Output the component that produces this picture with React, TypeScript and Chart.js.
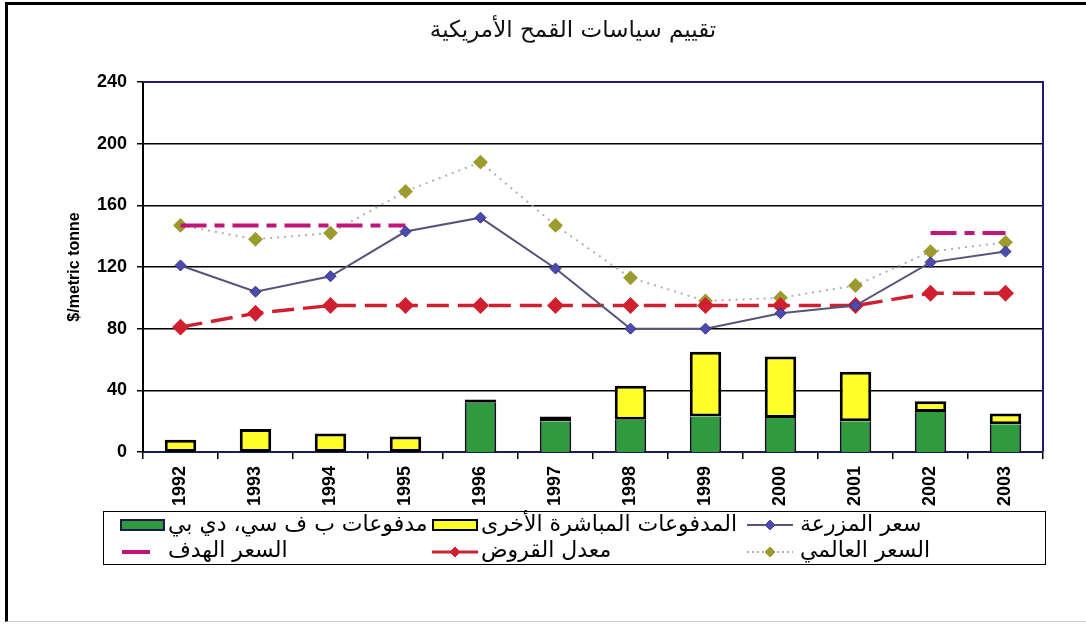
import React, { useEffect, useRef } from "react";
import { Chart, registerables } from "chart.js";

Chart.register(...registerables);

const chartTitle = "تقييم سياسات القمح الأمريكية";
const yAxisTitle = "$/metric tonne";
const years = ["1992", "1993", "1994", "1995", "1996", "1997", "1998", "1999", "2000", "2001", "2002", "2003"];
const pfcPayments = [0, 0, 0, 0, 32, 20, 21, 23, 22, 20, 26, 18];
const otherDirectPayments = [8, 15, 12, 10, 2, 3, 22, 42, 40, 32, 7, 7];
const farmPrice = [121, 104, 114, 143, 152, 119, 80, 80, 90, 95, 123, 130];
const targetPrice = [147, 147, 147, 147, null, null, null, null, null, null, 142, 142];
const loanRate = [81, 90, 95, 95, 95, 95, 95, 95, 95, 95, 103, 103];
const worldPrice = [147, 138, 142, 169, 188, 147, 113, 98, 100, 108, 130, 136];
const yMin = 0;
const yMax = 240;
const yStep = 40;

const labelPfc = "مدفوعات ب ف سي، دي بي";
const labelOther = "المدفوعات المباشرة الأخرى";
const labelFarm = "سعر المزرعة";
const labelTarget = "السعر الهدف";
const labelLoan = "معدل القروض";
const labelWorld = "السعر العالمي";

const GREEN = "#2f9a3e";
const YELLOW = "#ffff2a";
const FARM_LINE = "#55557a";
const FARM_MARK = "#4c4cb0";
const TARGET = "#c2157a";
const LOAN = "#d02030";
const WORLD_LINE = "#b0b0b0";
const WORLD_MARK = "#9c9c2e";
const NAVY = "#2a1a6e";

const frameBorder = {
  id: "frameBorder",
  beforeDatasetsDraw(chart: any) {
    const { ctx, chartArea } = chart;
    const { left, top, right, bottom } = chartArea;
    ctx.save();
    ctx.strokeStyle = NAVY;
    ctx.lineWidth = 2;
    ctx.beginPath();
    ctx.moveTo(left, top);
    ctx.lineTo(right, top);
    ctx.lineTo(right, bottom);
    ctx.stroke();
    ctx.restore();
  },
};

function LineSymbol(props: { color: string; width: number; dash?: string; mark?: string; x1?: number; x2?: number; markColor?: string }) {
  const { color, width, dash, mark, x1 = 0, x2 = 46, markColor } = props;
  return (
    <svg width={46} height={14} style={{ position: "absolute", left: 0, top: 0 }}>
      <line x1={x1} y1={7} x2={x2} y2={7} stroke={color} strokeWidth={width} strokeDasharray={dash} />
      {mark ? <polygon points="23,2 28,7 23,12 18,7" fill={markColor} stroke={markColor} /> : null}
    </svg>
  );
}

export default function App() {
  const canvasRef = useRef<HTMLCanvasElement | null>(null);

  useEffect(() => {
    const canvas = canvasRef.current;
    if (!canvas) return;
    const chart = new Chart(canvas, {
      type: "bar",
      data: {
        labels: years,
        datasets: [
          {
            type: "bar",
            label: labelPfc,
            data: pfcPayments,
            backgroundColor: GREEN,
            borderColor: "#111122",
            borderWidth: { top: 0, left: 2, right: 2, bottom: 0 } as any,
            borderSkipped: false,
            yAxisID: "y2",
            stack: "pay",
            order: 9,
            barPercentage: 0.42,
            categoryPercentage: 1,
          },
          {
            type: "bar",
            label: labelOther,
            data: otherDirectPayments,
            backgroundColor: YELLOW,
            borderColor: "#000000",
            borderWidth: 3,
            borderSkipped: false,
            yAxisID: "y2",
            stack: "pay",
            order: 10,
            barPercentage: 0.42,
            categoryPercentage: 1,
          },
          {
            type: "line",
            label: labelWorld,
            data: worldPrice,
            borderColor: WORLD_LINE,
            borderWidth: 2,
            borderDash: [2, 5],
            pointStyle: "rectRot",
            pointRadius: 6,
            pointBackgroundColor: WORLD_MARK,
            pointBorderColor: WORLD_MARK,
            tension: 0,
            yAxisID: "y",
            order: 4,
          },
          {
            type: "line",
            label: labelLoan,
            data: loanRate,
            borderColor: LOAN,
            borderWidth: 3.5,
            borderDash: [22, 9],
            pointStyle: "rectRot",
            pointRadius: 6,
            pointBackgroundColor: LOAN,
            pointBorderColor: LOAN,
            tension: 0,
            yAxisID: "y",
            order: 3,
          },
          {
            type: "line",
            label: labelTarget,
            data: targetPrice,
            borderColor: TARGET,
            borderWidth: 4,
            borderDash: [26, 8, 10, 8],
            pointRadius: 0,
            tension: 0,
            spanGaps: false,
            yAxisID: "y",
            order: 2,
          },
          {
            type: "line",
            label: labelFarm,
            data: farmPrice,
            borderColor: FARM_LINE,
            borderWidth: 2,
            pointStyle: "rectRot",
            pointRadius: 5.5,
            pointBackgroundColor: FARM_MARK,
            pointBorderColor: "#303080",
            pointBorderWidth: 1,
            tension: 0,
            yAxisID: "y",
            order: 1,
          },
        ] as any,
      },
      options: {
        responsive: false,
        animation: false,
        devicePixelRatio: 1,
        layout: { padding: { left: 0, top: 82, right: 43, bottom: 115 } },
        plugins: {
          legend: { display: false },
          title: { display: false },
          tooltip: { enabled: false },
        },
        scales: {
          x: {
            stacked: true,
            grid: {
              offset: true,
              drawOnChartArea: false,
              drawTicks: true,
              tickLength: 7,
              color: "#000000",
              lineWidth: 1.5,
            },
            border: { display: true, color: "#1c1c55", width: 2 },
            ticks: {
              color: "#000000",
              font: { family: "'Liberation Sans', Arial, sans-serif", size: 18, weight: "bold" },
              minRotation: 90,
              maxRotation: 90,
              padding: 7,
              autoSkip: false,
            },
            afterFit: (scale: any) => {
              scale.height = 60;
            },
          },
          y: {
            position: "left",
            stacked: false,
            min: yMin,
            max: yMax,
            ticks: {
              stepSize: yStep,
              color: "#000000",
              padding: 10,
              font: { family: "'Liberation Sans', Arial, sans-serif", size: 18, weight: "bold" },
            },
            grid: { color: "#000000", lineWidth: 1.5, tickLength: 6, drawTicks: true },
            border: { display: true, color: "#000000", width: 2 },
            title: {
              display: true,
              text: yAxisTitle,
              color: "#000000",
              font: { family: "'Liberation Sans', Arial, sans-serif", size: 16, weight: "bold" },
              padding: { top: 65, bottom: 0 },
            },
            afterFit: (scale: any) => {
              scale.width = 143;
            },
          },
          y2: {
            display: false,
            stacked: true,
            min: yMin,
            max: yMax,
          },
        },
      } as any,
      plugins: [frameBorder],
    });
    return () => chart.destroy();
  }, []);

  const rowTop = [519, 545];
  const colSym = [120, 432, 747];
  const colText = [168, 481, 800];
  const textStyle = (left: number, top: number): React.CSSProperties => ({
    position: "absolute",
    left,
    top: top - 9,
    fontFamily: "'DejaVu Sans', sans-serif",
    fontSize: 22,
    lineHeight: "28px",
    whiteSpace: "nowrap",
    color: "#000",
  });

  return (
    <div style={{ position: "absolute", left: 0, top: 0, width: 1086, height: 627, background: "#fff", overflow: "hidden" }}>
      <div
        style={{
          position: "absolute",
          left: 5,
          top: 2,
          width: 1200,
          height: 620,
          borderLeft: "3px solid #000",
          borderTop: "3px solid #000",
          borderBottom: "1px solid #cfcfcf",
          boxSizing: "border-box",
        }}
      />
      <canvas ref={canvasRef} width={1086} height={627} style={{ position: "absolute", left: 0, top: 0 }} />
      <div
        dir="rtl"
        style={{
          position: "absolute",
          left: 573,
          top: 16,
          transform: "translateX(-50%)",
          fontFamily: "'DejaVu Sans', sans-serif",
          fontSize: 23,
          whiteSpace: "nowrap",
          color: "#111",
        }}
      >
        {chartTitle}
      </div>
      <div
        style={{
          position: "absolute",
          left: 103,
          top: 511,
          width: 943,
          height: 54,
          border: "1.5px solid #000",
          boxSizing: "border-box",
          background: "#fff",
        }}
      />
      {/* row 1 */}
      <div style={{ position: "absolute", left: colSym[0], top: rowTop[0], width: 45, height: 12, background: GREEN, border: "2px solid #1b1b4b", boxSizing: "border-box" }} />
      <div dir="rtl" style={textStyle(colText[0], rowTop[0])}>{labelPfc}</div>
      <div style={{ position: "absolute", left: colSym[1], top: rowTop[0], width: 46, height: 12, background: YELLOW, border: "2px solid #000", boxSizing: "border-box" }} />
      <div dir="rtl" style={textStyle(colText[1], rowTop[0])}>{labelOther}</div>
      <div style={{ position: "absolute", left: colSym[2], top: rowTop[0] - 1, width: 46, height: 14 }}>
        <LineSymbol color={FARM_LINE} width={2} mark="d" markColor={FARM_MARK} />
      </div>
      <div dir="rtl" style={textStyle(colText[2], rowTop[0])}>{labelFarm}</div>
      {/* row 2 */}
      <div style={{ position: "absolute", left: colSym[0], top: rowTop[1], width: 46, height: 14 }}>
        <LineSymbol color={TARGET} width={4} x1={2} x2={30} />
      </div>
      <div dir="rtl" style={textStyle(colText[0], rowTop[1])}>{labelTarget}</div>
      <div style={{ position: "absolute", left: colSym[1], top: rowTop[1], width: 46, height: 14 }}>
        <LineSymbol color={LOAN} width={3} mark="d" markColor={LOAN} />
      </div>
      <div dir="rtl" style={textStyle(colText[1], rowTop[1])}>{labelLoan}</div>
      <div style={{ position: "absolute", left: colSym[2], top: rowTop[1], width: 46, height: 14 }}>
        <LineSymbol color={WORLD_LINE} width={2} dash="2 3" mark="d" markColor={WORLD_MARK} />
      </div>
      <div dir="rtl" style={textStyle(colText[2], rowTop[1])}>{labelWorld}</div>
    </div>
  );
}
